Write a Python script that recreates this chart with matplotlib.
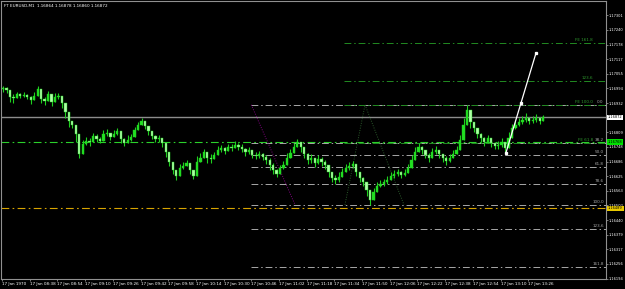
import matplotlib
matplotlib.use("Agg")
import matplotlib.pyplot as plt

# EURUSD M1, every 2 minutes starting 08:22
closes = [1.16996, 1.16988, 1.16958, 1.16954, 1.16971, 1.16962, 1.16967, 1.16958, 1.16946, 1.16962,
          1.16992, 1.16950, 1.16941, 1.16971, 1.16937, 1.16958, 1.16962, 1.16933, 1.16895, 1.16857,
          1.16840, 1.16802, 1.16718, 1.16760, 1.16773, 1.16769, 1.16794, 1.16781, 1.16773, 1.16802,
          1.16807, 1.16790, 1.16802, 1.16815, 1.16781, 1.16765, 1.16777, 1.16790, 1.16819, 1.16840,
          1.16857, 1.16836, 1.16815, 1.16794, 1.16781, 1.16786, 1.16765, 1.16727, 1.16685, 1.16651,
          1.16626, 1.16659, 1.16668, 1.16680, 1.16651, 1.16626, 1.16685, 1.16701, 1.16727, 1.16701,
          1.16697, 1.16714, 1.16735, 1.16744, 1.16731, 1.16748, 1.16744, 1.16756, 1.16748, 1.16739,
          1.16727, 1.16735, 1.16714, 1.16710, 1.16718, 1.16706, 1.16693, 1.16672, 1.16651, 1.16634,
          1.16659, 1.16672, 1.16701, 1.16723, 1.16748, 1.16769, 1.16748, 1.16718, 1.16693, 1.16701,
          1.16680, 1.16697, 1.16685, 1.16672, 1.16643, 1.16617, 1.16609, 1.16622, 1.16643, 1.16659,
          1.16668, 1.16676, 1.16643, 1.16617, 1.16601, 1.16567, 1.16525, 1.16559, 1.16584, 1.16592,
          1.16601, 1.16609, 1.16626, 1.16634, 1.16643, 1.16630, 1.16638, 1.16659, 1.16693, 1.16727,
          1.16748, 1.16735, 1.16714, 1.16701, 1.16727, 1.16735, 1.16718, 1.16701, 1.16689, 1.16701,
          1.16718, 1.16735, 1.16777, 1.16840, 1.16903, 1.16853, 1.16828, 1.16802, 1.16786, 1.16769,
          1.16786, 1.16765, 1.16752, 1.16756, 1.16769, 1.16744, 1.16786, 1.16828, 1.16840, 1.16853,
          1.16861, 1.16870, 1.16857, 1.16861, 1.16870, 1.16857, 1.16872]
highs = [1.17005, 1.17000, 1.16988, 1.16971, 1.16979, 1.16975, 1.16979, 1.16971, 1.16962, 1.16979,
         1.17005, 1.16971, 1.16958, 1.16983, 1.16962, 1.16975, 1.16975, 1.16954, 1.16929, 1.16882,
         1.16857, 1.16836, 1.16756, 1.16777, 1.16790, 1.16786, 1.16807, 1.16802, 1.16790, 1.16819,
         1.16823, 1.16807, 1.16819, 1.16828, 1.16802, 1.16786, 1.16798, 1.16802, 1.16832, 1.16853,
         1.16870, 1.16853, 1.16832, 1.16811, 1.16798, 1.16798, 1.16786, 1.16756, 1.16714, 1.16680,
         1.16651, 1.16676, 1.16685, 1.16693, 1.16668, 1.16651, 1.16710, 1.16723, 1.16739, 1.16727,
         1.16718, 1.16727, 1.16752, 1.16756, 1.16748, 1.16760, 1.16760, 1.16773, 1.16765, 1.16760,
         1.16744, 1.16748, 1.16735, 1.16727, 1.16731, 1.16723, 1.16714, 1.16701, 1.16680, 1.16655,
         1.16672, 1.16689, 1.16723, 1.16739, 1.16765, 1.16781, 1.16765, 1.16739, 1.16723, 1.16718,
         1.16701, 1.16714, 1.16706, 1.16693, 1.16668, 1.16643, 1.16630, 1.16643, 1.16659, 1.16676,
         1.16685, 1.16689, 1.16668, 1.16643, 1.16622, 1.16588, 1.16550, 1.16575, 1.16601, 1.16609,
         1.16613, 1.16626, 1.16643, 1.16651, 1.16655, 1.16647, 1.16655, 1.16676, 1.16714, 1.16748,
         1.16765, 1.16752, 1.16735, 1.16723, 1.16744, 1.16752, 1.16735, 1.16718, 1.16710, 1.16718,
         1.16735, 1.16752, 1.16798, 1.16870, 1.16925, 1.16895, 1.16853, 1.16828, 1.16807, 1.16790,
         1.16798, 1.16781, 1.16769, 1.16773, 1.16786, 1.16760, 1.16811, 1.16845, 1.16857, 1.16870,
         1.16878, 1.16891, 1.16874, 1.16878, 1.16887, 1.16874, 1.16882]
lows = [1.16979, 1.16975, 1.16937, 1.16933, 1.16958, 1.16954, 1.16958, 1.16950, 1.16929, 1.16946,
        1.16975, 1.16933, 1.16925, 1.16954, 1.16920, 1.16941, 1.16950, 1.16912, 1.16870, 1.16832,
        1.16828, 1.16769, 1.16701, 1.16735, 1.16756, 1.16752, 1.16777, 1.16769, 1.16765, 1.16790,
        1.16794, 1.16777, 1.16790, 1.16798, 1.16765, 1.16752, 1.16765, 1.16773, 1.16807, 1.16828,
        1.16840, 1.16823, 1.16798, 1.16781, 1.16769, 1.16769, 1.16748, 1.16706, 1.16668, 1.16634,
        1.16609, 1.16643, 1.16655, 1.16668, 1.16634, 1.16613, 1.16664, 1.16685, 1.16710, 1.16680,
        1.16680, 1.16697, 1.16723, 1.16727, 1.16718, 1.16731, 1.16731, 1.16744, 1.16735, 1.16727,
        1.16710, 1.16718, 1.16701, 1.16697, 1.16701, 1.16693, 1.16676, 1.16651, 1.16634, 1.16622,
        1.16643, 1.16655, 1.16680, 1.16706, 1.16731, 1.16752, 1.16727, 1.16701, 1.16676, 1.16680,
        1.16664, 1.16676, 1.16668, 1.16655, 1.16622, 1.16601, 1.16592, 1.16601, 1.16626, 1.16643,
        1.16651, 1.16659, 1.16626, 1.16601, 1.16584, 1.16542, 1.16504, 1.16533, 1.16567, 1.16580,
        1.16584, 1.16592, 1.16609, 1.16617, 1.16626, 1.16617, 1.16626, 1.16643, 1.16672, 1.16706,
        1.16731, 1.16718, 1.16701, 1.16685, 1.16710, 1.16718, 1.16701, 1.16685, 1.16672, 1.16685,
        1.16706, 1.16718, 1.16735, 1.16786, 1.16853, 1.16828, 1.16811, 1.16786, 1.16769, 1.16752,
        1.16765, 1.16748, 1.16739, 1.16739, 1.16748, 1.16727, 1.16744, 1.16807, 1.16823, 1.16836,
        1.16845, 1.16853, 1.16845, 1.16849, 1.16853, 1.16845, 1.16857]
first_open = 1.16992
opens = [first_open] + closes[:-1]
times = [0.6 + 2 * i for i in range(len(closes))]   # minutes after 08:22

# price scale / time scale labels
ytick_vals = [1.16194, 1.16256, 1.16317, 1.16379, 1.16440, 1.16502, 1.16563, 1.16625, 1.16686,
              1.16748, 1.16809, 1.16932, 1.16994, 1.17055, 1.17117, 1.17178, 1.17240, 1.17301]
xtick_pos = [0, 16, 32, 48, 64, 80, 96, 112, 128, 144, 160, 176, 192, 208, 224, 240, 256, 272, 288, 304]
xtick_labels = ["17 Jan 1970", "17 Jan 08:38", "17 Jan 08:54", "17 Jan 09:10", "17 Jan 09:26",
                "17 Jan 09:42", "17 Jan 09:58", "17 Jan 10:14", "17 Jan 10:30", "17 Jan 10:46",
                "17 Jan 11:02", "17 Jan 11:18", "17 Jan 11:34", "17 Jan 11:50", "17 Jan 12:06",
                "17 Jan 12:22", "17 Jan 12:38", "17 Jan 12:54", "17 Jan 13:10", "17 Jan 13:26"]

# fibo retracement (grey)
fibo_names = ["0.0", "38.2", "50.0", "61.8", "78.6", "100.0", "123.6", "161.8"]
fibo_prices = [1.16925, 1.16763, 1.16714, 1.16664, 1.16593, 1.16502, 1.16402, 1.16241]
fibo_start = 144.0
fibo_diag_t = [144.0, 169.3]
fibo_diag_p = [1.16925, 1.16504]
# fibo expansion (green)
fe_names = ["FE 61.8", "FE 100.0", "123.6", "FE 161.8"]
fe_prices = [1.16764, 1.16925, 1.17024, 1.17185]
fe_start = 197.6
fe_leg_t = [198.1, 209.7, 232.2]
fe_leg_p = [1.16504, 1.16925, 1.16504]
# other lines
bid = 1.16872
green_level = 1.16768
yellow_level = 1.16489
trend_t = [291.1, 299.8, 308.5]
trend_p = [1.16723, 1.16933, 1.17144]

W, H = 625, 289
fig = plt.figure(figsize=(W / 100, H / 100), dpi=100, facecolor="black")
ax = fig.add_axes([1.5 / W, 10 / H, 604.5 / W, 278 / H], facecolor="black")
ax.set_xlim(-0.3, 348.9)
ax.set_ylim(1.16192, 1.17362)

fs = 3.0
fs_y = 2.6
dd = (0, (7, 3, 1.5, 3))

# candles
for t, o, h, l, c in zip(times, opens, highs, lows, closes):
    h = max(h, o, c)
    l = min(l, o, c)
    col = "#22e022" if c >= o else "#b0ffa8"
    ax.vlines(t, l, h, color="#1ed01e", lw=0.8, zorder=3)
    ax.bar(t, max(abs(c - o), 0.000015), bottom=min(o, c), width=1.3,
           color=col, edgecolor="#1ed01e", lw=0.3, zorder=4)

# horizontal levels
ax.axhline(bid, color="#8c8c8c", lw=1.0, zorder=2)
ax.axhline(green_level, color="#2bd02b", lw=0.8, ls=dd, zorder=2)
ax.axhline(yellow_level, color="#d8a400", lw=0.8, ls=dd, zorder=2)

for name, p in zip(fibo_names, fibo_prices):
    ax.plot([fibo_start, 348.9], [p, p], color="#a8a8a8", lw=0.7, ls=dd, zorder=2)
    ax.text(347.6, p + 0.00004, name, color="#a8a8a8", fontsize=fs, ha="right", va="bottom")
ax.plot(fibo_diag_t, fibo_diag_p, color="#800080", lw=0.7, ls=(0, (1, 1.5)), zorder=2)

for name, p in zip(fe_names, fe_prices):
    ax.plot([fe_start, 348.9], [p, p], color="#228b22", lw=0.7, ls=dd, zorder=2)
    ax.text(341.5, p + 0.00004, name, color="#2e9b2e", fontsize=fs, ha="right", va="bottom")
ax.plot(fe_leg_t, fe_leg_p, color="#2a5a2a", lw=0.7, ls=(0, (1, 1.5)), zorder=2)

ax.plot(trend_t, trend_p, color="white", lw=0.9, marker="s", markersize=1.4, zorder=6)

# axes look
for side in ["left", "top", "right", "bottom"]:
    ax.spines[side].set_color("#909090")
    ax.spines[side].set_linewidth(0.8)
ax.yaxis.tick_right()
ax.set_yticks(ytick_vals)
ax.set_yticklabels(["%.5f" % v for v in ytick_vals])
ax.set_xticks(xtick_pos)
ax.set_xticklabels(xtick_labels, ha="left")
ax.tick_params(colors="#909090", labelcolor="white", labelsize=fs, length=1.5, width=0.6, pad=0.8)
ax.tick_params(axis="y", labelsize=fs_y, pad=0.5)

yt = ax.get_yaxis_transform()
box_labels = [(bid, "white"), (green_level, "#00e000"), (yellow_level, "#e8c800")]
for p, bg in box_labels:
    ax.text(1.0035, p, "%.5f" % p, transform=yt, fontsize=fs_y, color="black", ha="left", va="center",
            bbox=dict(boxstyle="square,pad=0.2", fc=bg, ec="none"), zorder=10, clip_on=False)

fig.text(4 / W, 1 - 6 / H, "FT EURUSD,M1  1.16864 1.16878 1.16860 1.16872",
         color="white", fontsize=fs, ha="left", va="center")

fig.savefig("out.png", dpi=100, facecolor="black")
